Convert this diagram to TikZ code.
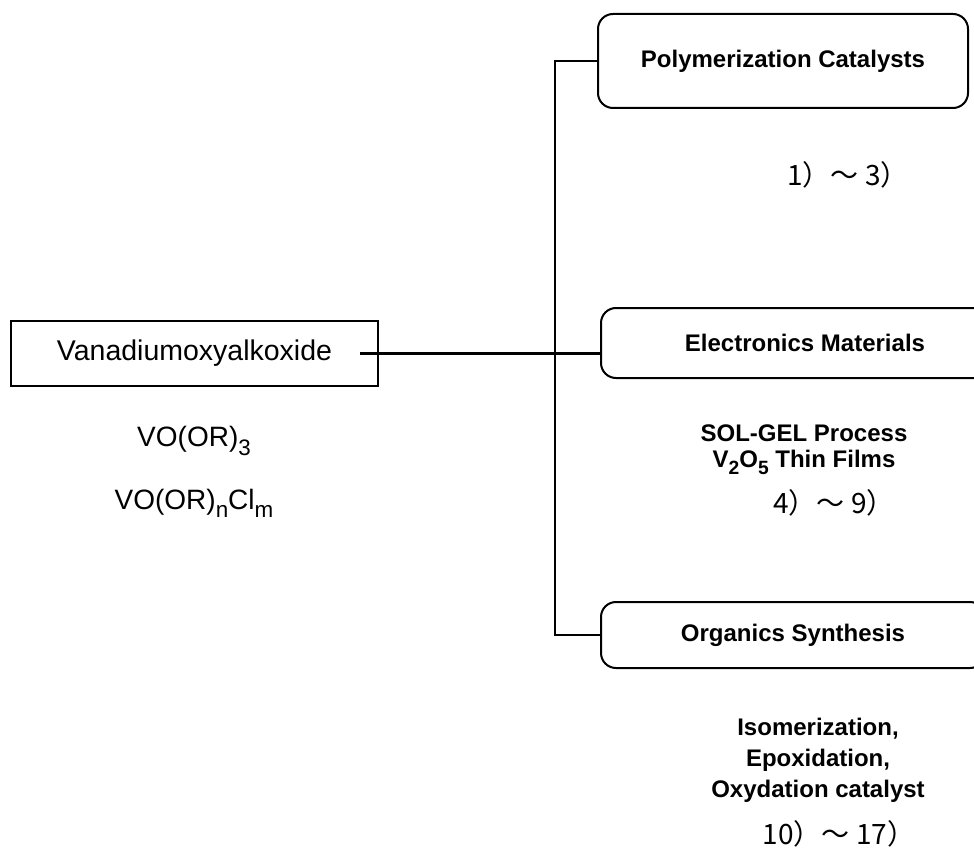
\documentclass[tikz,border=0pt]{standalone}
\usepackage{fontspec}
\setmainfont{Liberation Sans}
\newfontfamily\jpfont{Noto Sans CJK JP}
\usepackage{tikz}
\usetikzlibrary{positioning,calc}
% large, low subscript as in the chemical formulae
\newcommand{\lowsub}[1]{\raisebox{-0.29em}{\scalebox{0.8}{#1}}}

\begin{document}
\begin{tikzpicture}[x=1pt,y=-1pt,
    srcbox/.style={draw,line width=2pt,minimum width=367pt,minimum height=65pt,
      font=\fontsize{28.5}{32}\selectfont},
    usebox/.style={draw,line width=2pt,rounded corners=15pt,
      font=\fontsize{24}{28}\selectfont\bfseries},
    link/.style={line width=2.5pt},
    formula/.style={font=\fontsize{28}{32}\selectfont},
    note/.style={align=center,font=\fontsize{24}{#1}\selectfont\bfseries},
    refno/.style={font=\jpfont\fontsize{28}{30}\selectfont}]
  \useasboundingbox (0,0) rectangle (974,850);
  \clip (0,0) rectangle (974,850);
  % starting compound
  \node[srcbox] (vana) at (194.5,353.5) {Vanadiumoxyalkoxide};
  \node[formula] (formA) at (194,441) {VO(OR)\lowsub{3}};
  \node[formula] (formB) at (194,503) {VO(OR)\lowsub{n}Cl\lowsub{m}};
  % fields of use (two boxes run past the right edge)
  \node[usebox,minimum width=370pt,minimum height=94pt] (poly) at (783,61) {Polymerization Catalysts};
  \node[usebox,minimum width=408pt,minimum height=70pt] (elec) at (805,343) {Electronics Materials};
  \node[usebox,minimum width=384pt,minimum height=66pt] (orga) at (793,635) {Organics Synthesis};
  % notes and references
  \node[refno] (refPoly) at (848,175) {1）～\ 3）};
  \node[note=26pt] (solgel) at (804,450) {SOL-GEL Process\\V\lowsub{2}O\lowsub{5} Thin Films};
  \node[refno] (refElec) at (834,503) {4）～\ 9）};
  \node[note=31pt] (orgnote) at (818,760) {Isomerization,\\Epoxidation,\\Oxydation catalyst};
  \node[refno] (refOrga) at (839,834) {10）～\ 17）};
  % tree of connectors
  \coordinate (trunk) at (555,0);
  \coordinate (tail) at ([xshift=-19pt]vana.east);
  \draw[link] (poly.west) -- (poly.west -| trunk) -- (orga.west -| trunk) -- (orga.west);
  \draw[link] (tail) -- (tail -| elec.west);
\end{tikzpicture}
\end{document}
